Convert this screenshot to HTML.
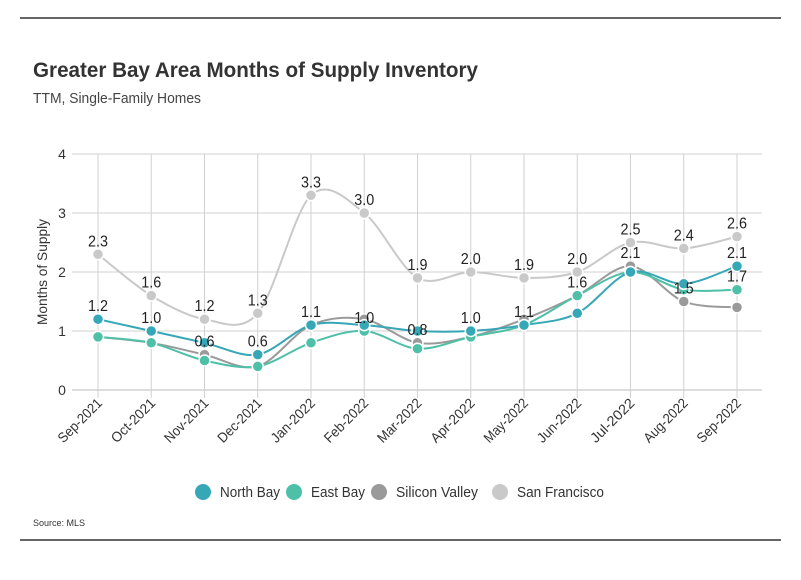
<!DOCTYPE html>
<html><head><meta charset="utf-8"><style>
body{margin:0;background:#fff;font-family:"Liberation Sans",sans-serif;}
svg text{font-family:"Liberation Sans",sans-serif;}
</style></head><body>
<svg id="c" width="801" height="575" xmlns="http://www.w3.org/2000/svg">
<line x1="20" y1="18" x2="781" y2="18" stroke="#333" stroke-width="1.5"/>
<text x="33" y="77" font-size="21" font-weight="bold" fill="#333" textLength="445" lengthAdjust="spacingAndGlyphs">Greater Bay Area Months of Supply Inventory</text>
<text x="33" y="103" font-size="15" fill="#444" textLength="168" lengthAdjust="spacingAndGlyphs">TTM, Single-Family Homes</text>
<text transform="translate(47,272) rotate(-90)" text-anchor="middle" font-size="14" fill="#333" textLength="106" lengthAdjust="spacingAndGlyphs">Months of Supply</text>
<g id="grid"></g><g id="series"></g><g id="labels"></g><g id="xl"></g>
<g id="legend"></g>
<text x="33" y="526" font-size="9" fill="#333">Source:  MLS</text>
<line x1="20" y1="540" x2="781" y2="540" stroke="#333" stroke-width="1.5"/>
</svg>
<script>
const categories=["Sep-2021","Oct-2021","Nov-2021","Dec-2021","Jan-2022","Feb-2022","Mar-2022","Apr-2022","May-2022","Jun-2022","Jul-2022","Aug-2022","Sep-2022"];
const northBay=[1.2,1.0,0.8,0.6,1.1,1.1,1.0,1.0,1.1,1.3,2.0,1.8,2.1];
const eastBay=[0.9,0.8,0.5,0.4,0.8,1.0,0.7,0.9,1.1,1.6,2.0,1.7,1.7];
const siliconValley=[0.9,0.8,0.6,0.4,1.1,1.2,0.8,0.9,1.2,1.6,2.1,1.5,1.4];
const sanFrancisco=[2.3,1.6,1.2,1.3,3.3,3.0,1.9,2.0,1.9,2.0,2.5,2.4,2.6];
const yTicks=[0,1,2,3,4];
const seriesNames=["North Bay","East Bay","Silicon Valley","San Francisco"];
const seriesColors=["#36a7b7","#4ec0a8","#9a9a9a","#c9c9c9"];
// labelled points: [categoryIndex, seriesIndex]
const labelPoints=[[0,0],[0,3],[1,0],[1,3],[2,2],[2,3],[3,0],[3,3],[4,0],[4,3],[5,1],[5,3],[6,2],[6,3],[7,0],[7,3],[8,1],[8,3],[9,2],[9,3],[10,2],[10,3],[11,2],[11,3],[12,0],[12,1],[12,3]];
const NS="http://www.w3.org/2000/svg";
const X0=98,X1=737,Y0=390,Y4=154;
const x=i=>X0+(X1-X0)*i/(categories.length-1);
const y=v=>Y0-(Y0-Y4)*v/4;
function mk(t,a,p){const e=document.createElementNS(NS,t);for(const k in a)e.setAttribute(k,a[k]);p.appendChild(e);return e;}
const grid=document.getElementById('grid');
yTicks.forEach(t=>{
 const l=mk('line',{x1:72,x2:762,y1:y(t),y2:y(t),stroke:t===0?'#bbb':'#d0d0d0','stroke-width':1},grid);
 
 
 const tx=mk('text',{x:62,y:y(t)+5,'font-size':14,fill:'#333','text-anchor':'middle'},grid);tx.textContent=t;
 
 
});
categories.forEach((c,i)=>{
 const l=mk('line',{x1:x(i),x2:x(i),y1:154,y2:398,stroke:'#d0d0d0','stroke-width':1},grid);
 
 
 const t=mk('text',{transform:`translate(${x(i)+5},${404}) rotate(-45)`,'font-size':14,fill:'#333','text-anchor':'end',textLength:56,lengthAdjust:'spacingAndGlyphs'},document.getElementById('xl'));t.textContent=c;
 
 
});
function pathFor(d){
 const p=d.map((v,i)=>[x(i),y(v)]);let s=`M${p[0][0]},${p[0][1]}`;
 for(let i=0;i<p.length-1;i++){const p0=p[i-1]||p[i],p1=p[i],p2=p[i+1],p3=p[i+2]||p2;const k=0.16;
  s+=` C${p1[0]+(p2[0]-p0[0])*k},${p1[1]+(p2[1]-p0[1])*k} ${p2[0]-(p3[0]-p1[0])*k},${p2[1]-(p3[1]-p1[1])*k} ${p2[0]},${p2[1]}`;}
 return s;}
const data=[northBay,eastBay,siliconValley,sanFrancisco];
const sg=document.getElementById('series');
[3,2,1,0].forEach(si=>{
 const g=mk('g',{},sg);
 
 
 mk('path',{d:pathFor(data[si]),fill:'none',stroke:seriesColors[si],'stroke-width':2},g);
 data[si].forEach((v,i)=>{const c=mk('circle',{cx:x(i),cy:y(v),r:5.5,fill:seriesColors[si],stroke:'#fff','stroke-width':1.5},g);
  
  });
});
const lg=document.getElementById('labels');
labelPoints.forEach(([i,si])=>{const v=data[si][i];
 const t=mk('text',{x:x(i),y:y(v)-8,'font-size':16,fill:'#222','text-anchor':'middle',textLength:20,lengthAdjust:'spacingAndGlyphs'},lg);t.textContent=v.toFixed(1);
 
 });
const leg=document.getElementById('legend');const lx=[203,294,379,500];const lw=[60,54,82,87];
seriesNames.forEach((n,i)=>{const g=mk('g',{},leg);
 
 
 mk('circle',{cx:lx[i],cy:492,r:8,fill:seriesColors[i]},g);
 const t=mk('text',{x:lx[i]+17,y:497,'font-size':14.5,fill:'#333',textLength:lw[i],lengthAdjust:'spacingAndGlyphs'},g);t.textContent=n;});
</script>
</body></html>
